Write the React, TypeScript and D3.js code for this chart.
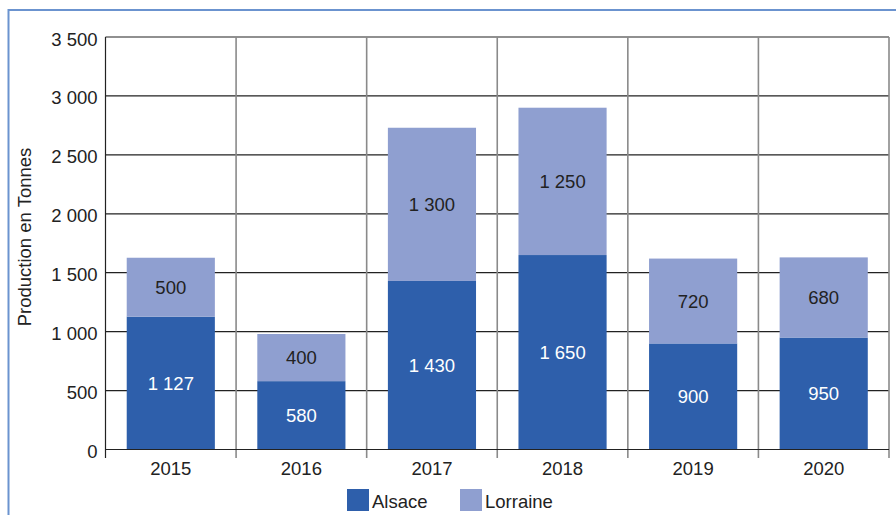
import React from "react";
import * as d3 from "d3";

const years = ["2015", "2016", "2017", "2018", "2019", "2020"];
const alsace = [1127, 580, 1430, 1650, 900, 950];
const lorraine = [500, 400, 1300, 1250, 720, 680];
const yTicks = [0, 500, 1000, 1500, 2000, 2500, 3000, 3500];
const seriesNames = ["Alsace", "Lorraine"];
const colors = ["#2e5fab", "#8f9fd0"];

const W = 896;
const H = 515;
const left = 105.5;
const right = 889;
const top = 37;
const bottom = 449.5;
const font = "'Liberation Sans', Arial, sans-serif";
const fs = 18.5;

const fmt = (v: number) => d3.format(",")(v).replace(/,/g, " ");

export default function App() {
  const x = d3.scaleBand<string>().domain(years).range([left, right]).paddingInner(0).paddingOuter(0);
  const y = d3.scaleLinear().domain([0, 3500]).range([bottom, top]);
  const barW = x.bandwidth() * 0.675;
  const boundaries = d3.range(years.length + 1).map((i) => left + i * x.bandwidth());

  return (
    <svg
      width={W}
      height={H}
      style={{ position: "absolute", left: 0, top: 0, background: "#fff" }}
      fontFamily={font}
    >
      {/* frame border */}
      <line x1={8.5} x2={W} y1={10} y2={10} stroke="#6b93cf" strokeWidth={2} />
      <line x1={8.5} x2={8.5} y1={9} y2={H} stroke="#6b93cf" strokeWidth={2} />

      {/* horizontal gridlines */}
      {yTicks.map((t) => (
        <line key={"g" + t} x1={left} x2={right} y1={y(t)} y2={y(t)} stroke="#222" strokeWidth={1.2} />
      ))}
      {/* vertical category boundaries */}
      {boundaries.map((bx, i) => (
        <line
          key={"v" + i}
          x1={bx}
          x2={bx}
          y1={top}
          y2={bottom + 8.5}
          stroke={i === 0 ? "#222" : "#8a8a8a"}
          strokeWidth={i === 0 ? 1.2 : 1.6}
        />
      ))}

      {/* bars */}
      {years.map((yr, i) => {
        const cx = (x(yr) as number) + x.bandwidth() / 2;
        const a = alsace[i];
        const l = lorraine[i];
        return (
          <g key={yr}>
            <rect x={cx - barW / 2} y={y(a)} width={barW} height={y(0) - y(a)} fill={colors[0]} />
            <rect x={cx - barW / 2} y={y(a + l)} width={barW} height={y(a) - y(a + l)} fill={colors[1]} />
            <text
              x={cx}
              y={(y(0) + y(a)) / 2}
              textAnchor="middle"
              dominantBaseline="central"
              fill="#fff"
              fontSize={fs}
            >
              {fmt(a)}
            </text>
            <text
              x={cx}
              y={(y(a) + y(a + l)) / 2}
              textAnchor="middle"
              dominantBaseline="central"
              fill="#222"
              fontSize={fs}
            >
              {fmt(l)}
            </text>
          </g>
        );
      })}
      {/* baseline redraw */}
      <line x1={left} x2={right} y1={y(0)} y2={y(0)} stroke="#222" strokeWidth={1.2} />

      {/* y tick labels */}
      {yTicks.map((t) => (
        <text
          key={"t" + t}
          x={left - 8}
          y={y(t) + 2}
          textAnchor="end"
          dominantBaseline="central"
          fill="#222"
          fontSize={fs}
        >
          {fmt(t)}
        </text>
      ))}

      {/* x labels */}
      {years.map((yr) => (
        <text
          key={"x" + yr}
          x={(x(yr) as number) + x.bandwidth() / 2}
          y={468}
          textAnchor="middle"
          dominantBaseline="central"
          fill="#222"
          fontSize={fs}
        >
          {yr}
        </text>
      ))}

      {/* y axis title */}
      <text
        transform={`translate(24, 237) rotate(-90)`}
        textAnchor="middle"
        dominantBaseline="central"
        fill="#222"
        fontSize={fs}
      >
        Production en Tonnes
      </text>

      {/* legend */}
      {seriesNames.map((n, i) => {
        const lx = [347, 460][i];
        return (
          <g key={n}>
            <rect x={lx} y={489} width={22} height={22} fill={colors[i]} />
            <text x={lx + 25} y={501} dominantBaseline="central" fill="#222" fontSize={fs}>
              {n}
            </text>
          </g>
        );
      })}
    </svg>
  );
}
